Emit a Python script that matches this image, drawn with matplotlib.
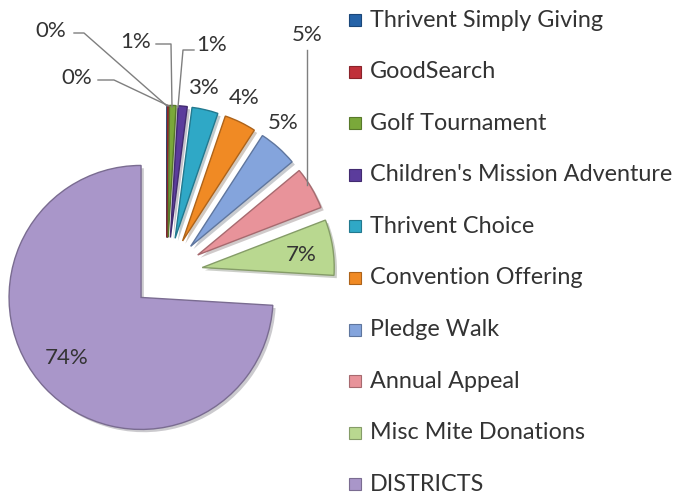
import matplotlib.pyplot as plt
import matplotlib.colors as mcolors
import matplotlib.patheffects as pe
from matplotlib.patches import Rectangle
import numpy as np

plt.rcParams['font.family'] = ['Lato', 'DejaVu Sans']

# données
labels = ["Thrivent Simply Giving", "GoodSearch", "Golf Tournament",
          "Children's Mission Adventure", "Thrivent Choice", "Convention Offering",
          "Pledge Walk", "Annual Appeal", "Misc Mite Donations", "DISTRICTS"]
values = [0.05, 0.1, 0.8, 1.1, 3.2, 3.9, 4.8, 5.2, 6.8, 74.05]
pct_labels = ["0%", "0%", "1%", "1%", "3%", "4%", "5%", "5%", "7%", "74%"]
colors = ["#2563a8", "#c0303a", "#7aa83a", "#5b3c9c", "#2fa8c6", "#f08a24",
          "#84a4dc", "#e8939a", "#b9d890", "#a996c9"]

# geometrie en pixels (centre du camembert, rayon)
W, H = 678, 497
cx, cy, R = 167, 273, 132


def px(x, y):
    return (x - cx) / R, (cy - y) / R


fig = plt.figure(figsize=(W / 100, H / 100), dpi=100)
ax = fig.add_axes([0, 0, 1, 1])

edge = [tuple(np.array(mcolors.to_rgb(c)) * 0.72) for c in colors]
wedges, _ = ax.pie(values, colors=colors, startangle=90, counterclock=False,
                   explode=[0.27] * len(values), radius=1.0,
                   wedgeprops=dict(linewidth=1.0))
for w, e in zip(wedges, edge):
    w.set_edgecolor(e)
    w.set_path_effects([pe.SimplePatchShadow(offset=(2, -2), alpha=0.25), pe.Normal()])

ax.set_xlim(px(0, 0)[0], px(W, 0)[0])
ax.set_ylim(px(0, H)[1], px(0, 0)[1])
ax.set_aspect('auto')
ax.axis('off')

# étiquettes de pourcentage (positions en pixels)
label_pos = [(51, 31), (77, 78), (136, 42), (212, 45), (203, 88),
             (244, 98), (283, 123), (307, 35), (301, 255), (67, 358)]
for txt, (x, y) in zip(pct_labels, label_pos):
    ax.text(*px(x, y), txt, fontsize=16, color="#333333", ha='center', va='center')

# lignes de rappel
leaders = [
    [(74, 33), (84, 33), (167, 106)],
    [(98, 80), (114, 80), (169, 106)],
    [(156, 44), (171, 44), (172, 107)],
    [(194, 50), (183, 50), (178, 107)],
    [(307, 50), (307, 185)],
]
for pts in leaders:
    xs, ys = zip(*[px(x, y) for x, y in pts])
    ax.plot(xs, ys, color="#7f7f7f", lw=1.0)

# légende
y0, dy = 20, 51.6
for i, (lab, c, e) in enumerate(zip(labels, colors, edge)):
    y = y0 + i * dy
    x0, y1 = px(349, y + 6)
    s = 12 / R
    ax.add_patch(Rectangle((x0, y1), s, s, facecolor=c, edgecolor=e, lw=0.8))
    ax.text(*px(370, y), lab, fontsize=16.8, color="#333333", ha='left', va='center')

fig.savefig("out.png", dpi=100)
